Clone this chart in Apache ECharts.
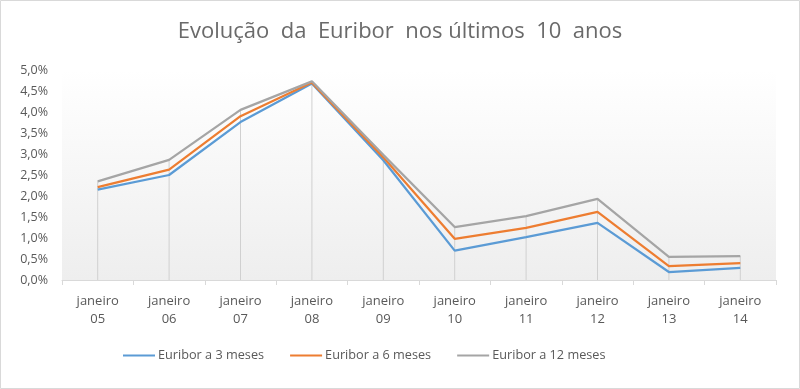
<!DOCTYPE html>
<html><head><meta charset="utf-8">
<script src="https://cdn.jsdelivr.net/npm/echarts@6/dist/echarts.min.js"></script>
<style>html,body{margin:0;padding:0;background:#fff}#c{width:800px;height:389px}</style>
</head><body><div id="c"></div>
<script>
const categories = ['janeiro\n05','janeiro\n06','janeiro\n07','janeiro\n08','janeiro\n09','janeiro\n10','janeiro\n11','janeiro\n12','janeiro\n13','janeiro\n14'];
const euribor3 = [2.15, 2.50, 3.76, 4.68, 2.85, 0.70, 1.02, 1.36, 0.19, 0.29];
const euribor6 = [2.21, 2.63, 3.90, 4.70, 2.92, 0.98, 1.24, 1.62, 0.33, 0.40];
const euribor12 = [2.35, 2.86, 4.05, 4.73, 2.98, 1.26, 1.52, 1.93, 0.55, 0.57];
const seriesNames = ['Euribor a 3 meses','Euribor a 6 meses','Euribor a 12 meses'];
const yTicks = {min: 0, max: 5, interval: 0.5};

const dropLine = categories.map((_, i) => Math.max(euribor3[i], euribor6[i], euribor12[i]));
const font = '"Open Sans", sans-serif';
const chart = echarts.init(document.getElementById('c'));
const lineStyle = (c) => ({type: 'line', smooth: false, showSymbol: false, symbol: 'none', lineStyle: {width: 2.25, color: c}, itemStyle: {color: c}});
chart.setOption({
  animation: false,
  title: {text: 'Evolução  da  Euribor  nos últimos  10  anos', left: 'center', top: 16,
    textStyle: {fontFamily: font, fontSize: 22, fontWeight: 'normal', color: '#6a6a6a'}},
  graphic: [{type: 'rect', shape: {x: 0.5, y: 0.5, width: 799, height: 388}, style: {fill: 'none', stroke: '#d9d9d9', lineWidth: 1}, silent: true}],
  grid: {left: 62, right: 24, top: 70, bottom: 109, show: true, borderWidth: 0,
    backgroundColor: new echarts.graphic.LinearGradient(0, 0, 0, 1, [{offset: 0, color: '#ffffff'}, {offset: 1, color: '#eeeeee'}])},
  legend: {data: seriesNames, bottom: 22, left: 118, itemWidth: 32, itemHeight: 2, itemGap: 26, icon: 'rect',
    textStyle: {fontFamily: font, fontSize: 12.7, color: '#595959', padding: [0, 0, 0, -2]}},
  xAxis: {type: 'category', data: categories, boundaryGap: true,
    axisLine: {lineStyle: {color: '#d9d9d9', width: 1}},
    axisTick: {show: true, length: 5, lineStyle: {color: '#d9d9d9'}},
    axisLabel: {fontFamily: font, fontSize: 13, color: '#595959', lineHeight: 18, margin: 12}},
  yAxis: {type: 'value', min: yTicks.min, max: yTicks.max, interval: yTicks.interval,
    axisLine: {show: false}, axisTick: {show: false}, splitLine: {show: false},
    axisLabel: {fontFamily: font, fontSize: 12.5, color: '#595959', margin: 14,
      formatter: v => v.toFixed(1).replace('.', ',') + '%'}},
  series: [
    {type: 'bar', data: dropLine, barWidth: 1, silent: true, itemStyle: {color: '#d0d0d0'}, z: 1, legendHoverLink: false},
    Object.assign(lineStyle('#5b9bd5'), {name: seriesNames[0], data: euribor3, z: 3}),
    Object.assign(lineStyle('#ed7d31'), {name: seriesNames[1], data: euribor6, z: 4}),
    Object.assign(lineStyle('#a5a5a5'), {name: seriesNames[2], data: euribor12, z: 5})
  ]
});
</script></body></html>
